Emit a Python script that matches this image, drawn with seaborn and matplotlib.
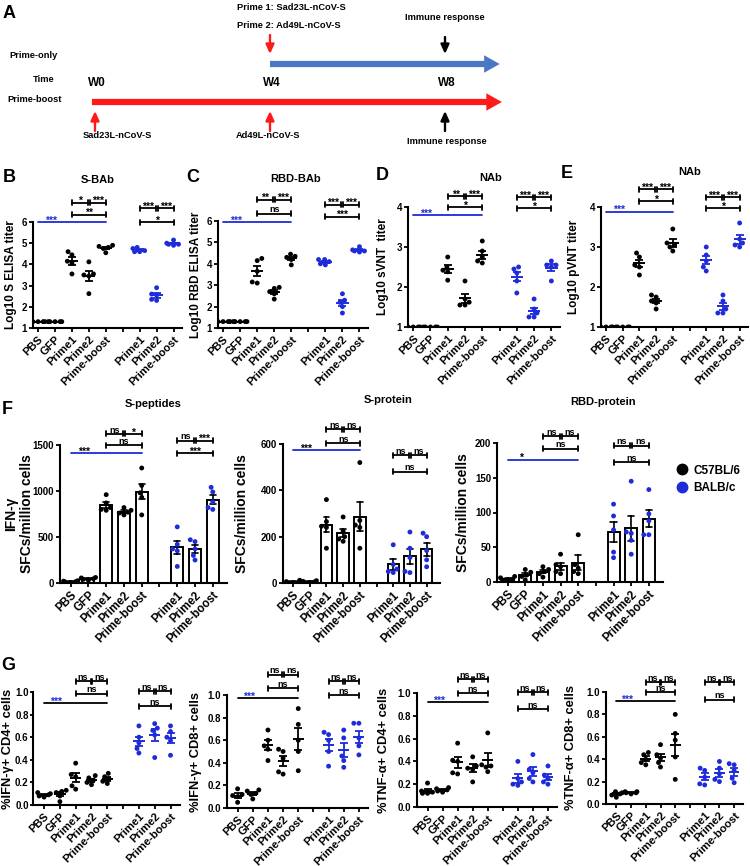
"""
Immune responses after prime-only vs prime-boost vaccination
(Sad23L-nCoV-S / Ad49L-nCoV-S) in C57BL/6 and BALB/c mice.
Panel A is the schedule, B-G are the readouts.
"""

import matplotlib
matplotlib.use('Agg')
import matplotlib.pyplot as plt
from matplotlib.lines import Line2D
from matplotlib.ticker import FormatStrFormatter
import pandas as pd
import seaborn as sns

# ---------------- data ----------------
GROUPS_B6 = ['PBS', 'GFP', 'Prime1', 'Prime2', 'Prime-boost']
GROUPS_BALB = ['Prime1', 'Prime2', 'Prime-boost']
STRAINS = ['C57BL/6', 'BALB/c']

# schedule (weeks)
WEEKS = [0, 4, 8]
WEEK_LABELS = ['W0', 'W4', 'W8']
PRIME_ONLY_TEXT = ['Prime 1: Sad23L-nCoV-S', 'Prime 2: Ad49L-nCoV-S']
BOOST_TEXT = ['Sad23L-nCoV-S', 'Ad49L-nCoV-S']

# 5 mice per group; first 5 groups C57BL/6, last 3 groups BALB/c
S_BAB = [[1.3, 1.3, 1.3, 1.3, 1.3], [1.3, 1.3, 1.3, 1.3, 1.3],
         [4.45, 4.6, 4.15, 4.05, 3.55], [4.12, 3.55, 3.5, 3.45, 2.62],
         [4.85, 4.9, 4.8, 4.75, 4.55],
         [4.75, 4.8, 4.65, 4.6, 4.6], [2.9, 2.6, 2.55, 2.35, 2.3],
         [5.15, 5.0, 4.95, 4.95, 4.9]]
RBD_BAB = [[1.3, 1.3, 1.3, 1.3, 1.3], [1.3, 1.3, 1.3, 1.3, 1.3],
           [4.15, 4.25, 3.65, 3.1, 3.15], [2.9, 2.85, 2.7, 2.6, 2.35],
           [4.45, 4.35, 4.2, 4.3, 3.95],
           [4.2, 4.2, 4.1, 3.95, 4.0], [2.6, 2.3, 2.2, 2.0, 1.7],
           [4.8, 4.65, 4.6, 4.6, 4.55]]
SVNT = [[1.0, 1.0, 1.0, 1.0, 1.0], [1.0, 1.0, 1.0, 1.0, 1.0],
        [2.75, 2.5, 2.42, 2.38, 2.17], [2.15, 1.7, 1.62, 1.55, 1.55],
        [3.15, 2.9, 2.75, 2.65, 2.6],
        [2.5, 2.45, 2.35, 2.15, 1.85], [1.7, 1.45, 1.35, 1.25, 1.25],
        [2.65, 2.55, 2.5, 2.55, 2.15]]
PVNT = [[1.0, 1.0, 1.0, 1.0, 1.0], [1.0, 1.0, 1.0, 1.0, 1.0],
        [2.85, 2.75, 2.55, 2.5, 2.3], [1.8, 1.75, 1.65, 1.6, 1.45],
        [3.45, 3.1, 3.05, 3.0, 2.9],
        [3.0, 2.8, 2.65, 2.5, 2.4], [1.8, 1.65, 1.45, 1.35, 1.35],
        [3.6, 3.2, 3.1, 3.05, 3.0]]
S_PEPTIDES = [[25, 15, 10, 20, 5], [60, 55, 45, 40, 30],
              [960, 870, 820, 800, 790], [820, 790, 770, 760, 740],
              [1250, 1060, 980, 930, 740],
              [610, 420, 370, 350, 180], [470, 450, 370, 300, 250],
              [1040, 990, 880, 820, 800]]
S_PROTEIN = [[12, 6, 3, 2, 1], [10, 7, 5, 3, 2],
             [360, 265, 245, 240, 150], [285, 225, 200, 190, 180],
             [520, 270, 250, 240, 150],
             [165, 80, 60, 50, 45], [220, 150, 110, 50, 45],
             [215, 200, 140, 100, 70]]
RBD_PROTEIN = [[8, 6, 4, 3, 2], [18, 14, 10, 8, 3],
               [22, 18, 15, 12, 7], [40, 25, 22, 15, 12],
               [68, 25, 20, 15, 12],
               [112, 95, 75, 43, 35], [145, 72, 70, 60, 40],
               [133, 98, 88, 68, 68]]
IFNG_CD4 = [[0.11, 0.1, 0.09, 0.08, 0.07], [0.13, 0.12, 0.11, 0.08, 0.03],
            [0.37, 0.27, 0.25, 0.17, 0.14], [0.26, 0.24, 0.22, 0.2, 0.18],
            [0.28, 0.25, 0.23, 0.21, 0.19],
            [0.7, 0.6, 0.55, 0.5, 0.46], [0.72, 0.68, 0.66, 0.62, 0.42],
            [0.7, 0.65, 0.6, 0.57, 0.44]]
IFNG_CD8 = [[0.17, 0.12, 0.11, 0.1, 0.05], [0.16, 0.15, 0.13, 0.12, 0.08],
            [0.69, 0.6, 0.55, 0.52, 0.42], [0.52, 0.5, 0.44, 0.32, 0.3],
            [0.88, 0.74, 0.6, 0.5, 0.33],
            [0.67, 0.65, 0.6, 0.5, 0.37], [0.69, 0.62, 0.46, 0.42, 0.36],
            [0.75, 0.75, 0.62, 0.55, 0.47]]
TNFA_CD4 = [[0.21, 0.14, 0.13, 0.12, 0.12], [0.17, 0.16, 0.15, 0.14, 0.13],
            [0.56, 0.41, 0.4, 0.3, 0.29], [0.44, 0.36, 0.34, 0.33, 0.22],
            [0.65, 0.37, 0.36, 0.35, 0.31],
            [0.4, 0.25, 0.22, 0.2, 0.19], [0.46, 0.33, 0.3, 0.25, 0.22],
            [0.36, 0.28, 0.25, 0.22, 0.2]]
TNFA_CD8 = [[0.11, 0.1, 0.09, 0.08, 0.06], [0.11, 0.11, 0.1, 0.1, 0.09],
            [0.46, 0.44, 0.4, 0.37, 0.35], [0.53, 0.44, 0.41, 0.37, 0.33],
            [0.8, 0.63, 0.57, 0.42, 0.22],
            [0.32, 0.3, 0.24, 0.18, 0.17], [0.38, 0.32, 0.27, 0.22, 0.2],
            [0.36, 0.35, 0.3, 0.23, 0.19]]

# significance: (vs controls, C57 [P1-P2, P2-PB, P1-PB], BALB [same])
SIG_S_BAB = ('***', ['*', '***', '**'], ['***', '***', '*'])
SIG_RBD_BAB = ('***', ['**', '***', 'ns'], ['***', '***', '***'])
SIG_SVNT = ('***', ['**', '***', '*'], ['***', '***', '*'])
SIG_PVNT = ('***', ['***', '***', '*'], ['***', '***', '*'])
SIG_S_PEPTIDES = ('***', ['ns', '*', 'ns'], ['ns', '***', '***'])
SIG_S_PROTEIN = ('***', ['ns', 'ns', 'ns'], ['ns', 'ns', 'ns'])
SIG_RBD_PROTEIN = ('*', ['ns', 'ns', 'ns'], ['ns', 'ns', 'ns'])
SIG_ICS = ('***', ['ns', 'ns', 'ns'], ['ns', 'ns', 'ns'])

# ---------------- style ----------------
FIG_W, FIG_H = 750, 866
BLACK = '#000000'
BLUE = '#1e2bd9'
RED = '#ff1a1a'
ARROW_BLUE = '#4a76c6'
PALETTE = {STRAINS[0]: BLACK, STRAINS[1]: BLUE}
TICK_LABELS = GROUPS_B6 + [''] + GROUPS_BALB

sns.set_theme(style='ticks')
plt.rcParams['font.family'] = ['Liberation Sans', 'DejaVu Sans']
plt.rcParams.update({
    'font.weight': 'bold',
    'axes.labelweight': 'bold',
    'axes.linewidth': 1.5,
    'axes.edgecolor': 'black',
    'xtick.major.width': 1.3,
    'ytick.major.width': 1.3,
    'xtick.major.size': 3,
    'ytick.major.size': 3,
    'xtick.major.pad': 1.5,
    'ytick.major.pad': 1.2,
    'xtick.color': 'black',
    'ytick.color': 'black',
    'text.color': 'black',
    'axes.labelcolor': 'black',
})


def px_axes(fig, left, top, right, bottom):
    return fig.add_axes([left / FIG_W, 1 - bottom / FIG_H,
                         (right - left) / FIG_W, (bottom - top) / FIG_H])


def fig_text(fig, x, y, s, **kw):
    fig.text(x / FIG_W, 1 - y / FIG_H, s, **kw)


def build_frame(values):
    rows = []
    for i, vals in enumerate(values):
        strain = STRAINS[0] if i < len(GROUPS_B6) else STRAINS[1]
        pos = i if i < len(GROUPS_B6) else i + 1
        rows += [{'pos': pos, 'value': v, 'strain': strain} for v in vals]
    return pd.DataFrame(rows)


def mean_sem(ax, df):
    stats = df.groupby(['pos', 'strain'])['value'].agg(['mean', 'sem'])
    for (pos, strain), r in stats.iterrows():
        c = PALETTE[strain]
        ax.hlines(r['mean'], pos - 0.36, pos + 0.36, color=c, lw=1.4, zorder=5)
        ax.errorbar(pos, r['mean'], yerr=r['sem'], fmt='none', ecolor=c,
                    elinewidth=1.3, capsize=3, capthick=1.3, zorder=5)


def sig_text(ax, x, y, text, color=BLACK):
    # asterisks sit high in the em box, so pull them down onto the line
    stars = text != 'ns'
    ax.annotate(text, (x, y), xycoords=ax.get_xaxis_transform(),
                xytext=(0, -1 if stars else 1), textcoords='offset points',
                ha='center', va='baseline', fontsize=7.5 if stars else 6.5,
                fontweight='bold', color=color, annotation_clip=False)


def bracket(ax, x1, x2, y, text):
    h = 2.5 / (ax.get_position().height * FIG_H)
    tr = ax.get_xaxis_transform()
    kw = dict(color=BLACK, lw=1.3, transform=tr, clip_on=False)
    ax.plot([x1, x2], [y, y], **kw)
    ax.plot([x1, x1], [y - h, y + h], **kw)
    ax.plot([x2, x2], [y - h, y + h], **kw)
    sig_text(ax, (x1 + x2) / 2, y, text)


def significance(ax, sig, heights, line_color, star_color):
    overall, b6, balb = sig
    pair_b6, long_b6, pair_balb, long_balb, line_y = heights
    ax.plot([0, 4], [line_y, line_y], color=line_color, lw=1.3,
            transform=ax.get_xaxis_transform(), clip_on=False)
    sig_text(ax, 0.75, line_y, overall, star_color)
    for start, labels, pair_y, long_y in ((2, b6, pair_b6, long_b6),
                                          (6, balb, pair_balb, long_balb)):
        bracket(ax, start, start + 0.94, pair_y, labels[0])
        bracket(ax, start + 1.06, start + 2, pair_y, labels[1])
        bracket(ax, start, start + 2, long_y, labels[2])


def draw_panel(ax, values, kind, xlim, ylim, yticks, ylabel, label_px,
               sizes, fmt=None):
    xsize, ysize, lsize = sizes
    df = build_frame(values)
    ax.set_xlim(*xlim)
    ax.set_ylim(*ylim)
    if kind == 'bar':
        sns.barplot(data=df, x='pos', y='value', native_scale=True,
                    orient='x', width=0.68, color='white', saturation=1,
                    edgecolor='black', linewidth=1.4, errorbar='se',
                    capsize=0.35, err_kws={'color': 'black', 'linewidth': 1.2},
                    ax=ax)
    sns.swarmplot(data=df, x='pos', y='value', hue='strain',
                  hue_order=STRAINS, palette=PALETTE, native_scale=True,
                  orient='x', size=3.5, legend=False, ax=ax, zorder=4)
    if kind == 'dot':
        mean_sem(ax, df)
    ax.set_xlim(*xlim)
    ax.set_ylim(*ylim)
    ax.set_yticks(yticks)
    if fmt:
        ax.yaxis.set_major_formatter(FormatStrFormatter(fmt))
    ax.set_xticks(range(len(TICK_LABELS)))
    ax.set_xticklabels(TICK_LABELS, rotation=45, ha='right',
                       rotation_mode='anchor', fontsize=xsize,
                       fontweight='bold')
    ax.tick_params(axis='y', labelsize=ysize)
    for lab in ax.get_yticklabels():
        lab.set_fontweight('bold')
    ax.set_xlabel('')
    ax.set_ylabel(ylabel, fontsize=lsize)
    # label_px: distance (px) from the y axis to the label's inner edge
    ax.yaxis.set_label_coords(-label_px / (ax.get_position().width * FIG_W),
                              0.5)
    sns.despine(ax=ax)
    return ax


def draw_timeline(fig):
    ax = px_axes(fig, 0, 0, 750, 166)
    scale = 43.75  # px per week
    ax.set_xlim(-95 / scale, 655 / scale)
    ax.set_ylim(166, 0)
    ax.axis('off')
    end = 9.3
    big = 'simple,head_length=0.8,head_width=0.9,tail_width=0.32'
    ax.annotate('', xy=(end - 0.05, 64), xytext=(WEEKS[1], 64),
                arrowprops=dict(arrowstyle=big, color=ARROW_BLUE, lw=0,
                                shrinkA=0, shrinkB=0, mutation_scale=14))
    ax.annotate('', xy=(end, 102), xytext=(WEEKS[0] - 0.07, 102),
                arrowprops=dict(arrowstyle=big, color=RED, lw=0,
                                shrinkA=0, shrinkB=0, mutation_scale=14))
    small = dict(arrowstyle='-|>,head_length=0.55,head_width=0.25', lw=1.7,
                 shrinkA=0, shrinkB=0, mutation_scale=10)
    ax.annotate('', xy=(WEEKS[1], 54), xytext=(WEEKS[1], 35),
                arrowprops=dict(small, color=RED))
    ax.annotate('', xy=(WEEKS[2], 54), xytext=(WEEKS[2], 37),
                arrowprops=dict(small, color=BLACK))
    for w, c in zip(WEEKS, [RED, RED, BLACK]):
        ax.annotate('', xy=(w, 111), xytext=(w, 131),
                    arrowprops=dict(small, color=c))
    tkw = dict(fontsize=6.7, fontweight='bold', va='center')
    for w, lab in zip(WEEKS, WEEK_LABELS):
        ax.text(w + 0.05, 83, lab, ha='center', fontsize=8.5,
                fontweight='bold', va='center')
    ax.text(WEEKS[1] - 0.75, 7, PRIME_ONLY_TEXT[0], ha='left', **tkw)
    ax.text(WEEKS[1] - 0.75, 26, PRIME_ONLY_TEXT[1], ha='left', **tkw)
    ax.text(WEEKS[2], 18, 'Immune response', ha='center', **tkw)
    ax.text(WEEKS[2] + 0.05, 142, 'Immune response', ha='center', **tkw)
    ax.text(WEEKS[0] + 0.5, 136, BOOST_TEXT[0], ha='center', **tkw)
    ax.text(WEEKS[1] - 0.05, 136, BOOST_TEXT[1], ha='center', **tkw)
    yt = ax.get_yaxis_transform()
    ax.text(0.012, 56, 'Prime-only', ha='left', transform=yt, **tkw)
    ax.text(0.073, 80, 'Time', ha='right', transform=yt, **tkw)
    ax.text(0.010, 100, 'Prime-boost', ha='left', transform=yt, **tkw)


def main():
    fig = plt.figure(figsize=(FIG_W / 100, FIG_H / 100), dpi=100)
    draw_timeline(fig)

    x_top, x_bar, x_ics = (-0.3, 8.5), (-0.6, 8.8), (-0.7, 8.6)
    # (x tick, y tick, y label) font sizes per row
    s_top, s_bar, s_ics = (8, 7, 8.5), (8.3, 7, 10), (8, 7, 9.3)
    ics_ticks = [0, 0.2, 0.4, 0.6, 0.8, 1.0]
    panels = [
        # rect, values, kind, xlim, ylim, yticks, ylabel, label offset,
        # sig, heights, line colour, star colour, sizes, tick format
        ((33, 222, 182, 328), S_BAB, 'dot', x_top, (1, 6), range(1, 7),
         'Log10 S ELISA titer', 16, SIG_S_BAB,
         (1.18, 1.07, 1.13, 1.0, 1.0), BLUE, BLUE, s_top, None),
        ((218, 221, 368, 328), RBD_BAB, 'dot', x_top, (1, 6), range(1, 7),
         'Log10 RBD ELISA titer', 16, SIG_RBD_BAB,
         (1.2, 1.07, 1.15, 1.04, 0.99), BLUE, BLUE, s_top, None),
        ((408, 207, 560, 327), SVNT, 'dot', x_top, (1, 4), range(1, 5),
         'Log10 sVNT  titer', 19, SIG_SVNT,
         (1.09, 1.0, 1.08, 0.99, 0.93), BLUE, BLUE, s_top, None),
        ((601, 207, 748, 327), PVNT, 'dot', x_top, (1, 4), range(1, 5),
         'Log10 pVNT titer', 21, SIG_PVNT,
         (1.15, 1.05, 1.08, 0.99, 0.96), BLUE, BLUE, s_top, None),
        ((60, 445, 227, 583), S_PEPTIDES, 'bar', x_bar, (0, 1500),
         [0, 500, 1000, 1500], 'IFN-γ\nSFCs/million cells', 26,
         SIG_S_PEPTIDES, (1.08, 1.0, 1.03, 0.94, 0.94), BLUE, BLACK,
         s_bar, None),
        ((283, 444, 440, 583), S_PROTEIN, 'bar', x_bar, (0, 600),
         [0, 200, 400, 600], 'SFCs/million cells', 34, SIG_S_PROTEIN,
         (1.105, 1.005, 0.92, 0.8, 0.957), BLUE, BLACK, s_bar, None),
        ((497, 443, 663, 582), RBD_PROTEIN, 'bar', x_bar, (0, 200),
         [0, 50, 100, 150, 200], 'SFCs/million cells', 27, SIG_RBD_PROTEIN,
         (1.05, 0.96, 0.98, 0.86, 0.88), BLUE, BLACK, s_bar, None),
        ((33, 692, 180, 805), IFNG_CD4, 'dot', x_ics, (0, 1), ics_ticks,
         '%IFN-γ+ CD4+ cells', 19, SIG_ICS,
         (1.095, 0.985, 1.006, 0.873, 0.9), BLACK, BLUE, s_ics, '%.1f'),
        ((227, 695, 368, 808), IFNG_CD8, 'dot', x_ics, (0, 1), ics_ticks,
         '%IFN-γ+ CD8+ cells', 25, SIG_ICS,
         (1.18, 1.06, 1.12, 1.0, 0.97), BLACK, BLUE, s_ics, '%.1f'),
        ((417, 693, 557, 807), TNFA_CD4, 'dot', x_ics, (0, 1), ics_ticks,
         '%TNF-α+ CD4+ cells', 27, SIG_ICS,
         (1.12, 1.0, 1.006, 0.86, 0.92), BLACK, BLUE, s_ics, '%.1f'),
        ((606, 692, 743, 804), TNFA_CD8, 'dot', x_ics, (0, 1), ics_ticks,
         '%TNF-α+ CD8+ cells', 29, SIG_ICS,
         (1.086, 1.0, 1.086, 0.93, 0.92), BLACK, BLUE, s_ics, '%.1f'),
    ]
    axes = []
    for (rect, values, kind, xlim, ylim, yticks, ylabel, label_px, sig,
         heights, line_c, star_c, sizes, fmt) in panels:
        ax = px_axes(fig, *rect)
        axes.append(draw_panel(ax, values, kind, xlim, ylim, yticks, ylabel,
                               label_px, sizes, fmt))
        significance(ax, sig, heights, line_c, star_c)
    # the first ICS panel sits against the page edge: tighten its ticks
    axes[7].tick_params(axis='y', length=2.5, pad=0.6)

    # panel titles and letters
    for x, y, s in [(98, 180, 'S-BAb'), (296, 179, 'RBD-BAb'), (491, 178, 'NAb'),
                    (690, 172, 'NAb'), (153, 404, 'S-peptides'),
                    (388, 400, 'S-protein'), (603, 402, 'RBD-protein')]:
        fig_text(fig, x, y, s, ha='center', va='center', fontsize=8,
                 fontweight='bold')
    for x, y, s in [(9, 13, 'A'), (9, 178, 'B'), (193, 177, 'C'),
                    (382, 175, 'D'), (567, 174, 'E'), (7, 410, 'F'),
                    (8, 665, 'G')]:
        fig_text(fig, x, y, s, ha='center', va='center', fontsize=13,
                 fontweight='bold')

    handles = [Line2D([], [], ls='', marker='o', markersize=7.5,
                      color=PALETTE[s]) for s in STRAINS]
    fig.legend(handles, STRAINS, loc='upper left', frameon=False,
               bbox_to_anchor=(664 / FIG_W, 1 - 454 / FIG_H),
               prop={'weight': 'bold', 'size': 8.5}, handletextpad=0.4,
               labelspacing=0.45, handlelength=1.2)

    fig.savefig('out.png', dpi=100)


if __name__ == '__main__':
    main()
